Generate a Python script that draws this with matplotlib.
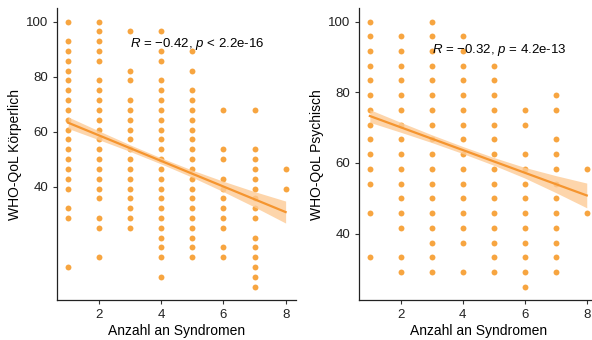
import numpy as np
import matplotlib
matplotlib.use("Agg")
import matplotlib.pyplot as plt

plt.rcParams["font.family"] = ["Liberation Sans", "DejaVu Sans"]
plt.rcParams["mathtext.fontset"] = "custom"
plt.rcParams["mathtext.rm"] = "Liberation Sans"
plt.rcParams["mathtext.it"] = "Liberation Sans:italic"

# number of syndromes (x) and raw WHO-QoL sum scores seen at each x
n_syndromes = [1, 2, 3, 4, 5, 6, 7, 8]

phys_raw = [
    [35, 33, 32, 31, 30, 29, 28, 27, 26, 25, 24, 23, 22, 21, 20, 19, 18, 16, 15, 10],
    [35, 34, 33, 32, 31, 29, 28, 27, 26, 25, 24, 23, 22, 21, 20, 19, 18, 17, 15, 14, 11],
    [34, 30, 29, 27, 26, 25, 24, 23, 22, 21, 20, 19, 18, 17, 16, 15, 14],
    [34, 32, 31, 29, 28, 27, 26, 25, 24, 23, 22, 21, 20, 19, 18, 17, 16, 15, 14, 13, 12, 11, 9],
    [32, 30, 28, 27, 26, 25, 24, 23, 22, 21, 20, 19, 18, 17, 16, 15, 14, 13, 12, 11],
    [26, 22, 21, 19, 18, 17, 16, 15, 14, 12, 11],
    [26, 22, 21, 20, 19, 18, 17, 16, 15, 13, 12, 11, 10, 9, 8],
    [20, 18],
]

psych_raw = [
    [30, 29, 28, 27, 26, 25, 24, 23, 22, 21, 20, 19, 17, 14],
    [29, 28, 27, 26, 25, 24, 23, 22, 21, 20, 19, 18, 17, 16, 14, 13],
    [30, 29, 28, 27, 26, 25, 24, 23, 22, 21, 20, 19, 18, 17, 16, 15, 14, 13],
    [29, 28, 27, 26, 25, 24, 23, 22, 21, 20, 19, 18, 17, 16, 15, 13],
    [27, 26, 25, 24, 23, 22, 21, 20, 19, 18, 17, 16, 15, 14, 13],
    [24, 23, 21, 20, 19, 18, 17, 16, 15, 14, 13, 12],
    [25, 24, 22, 21, 20, 19, 18, 17, 16, 15, 14, 13],
    [20, 17],
]

# regression fit and 95% CI half widths at x = 1..8
phys_fit = (-4.64, 67.84)
phys_ci = [2.1, 1.6, 1.2, 1.1, 1.3, 1.9, 2.8, 4.0]
psych_fit = (-3.21, 76.5)
psych_ci = [1.8, 1.4, 1.1, 1.0, 1.1, 1.5, 2.4, 3.5]

phys_label = r"$\mathit{R}$ = −0.42, $\mathit{p}$ < 2.2e-16"
psych_label = r"$\mathit{R}$ = −0.32, $\mathit{p}$ = 4.2e-13"

DOT = "#F7A540"
LINE = "#F5952F"
BAND = "#FDCB96"


def to_score(raw, n_items):
    # WHO-QoL domain transform (items scored 1..5) to 0..100
    return [(r - n_items) / (4 * n_items) * 100 for r in raw]


def panel(ax, raw, n_items, fit, ci, label, ylabel, ylim):
    for x, col in zip(n_syndromes, raw):
        ys = to_score(col, n_items)
        ax.scatter([x] * len(ys), ys, s=18, color=DOT, linewidths=0, zorder=2)

    xs = np.array(n_syndromes, dtype=float)
    fy = np.polyval(fit, xs)
    ax.fill_between(xs, fy - np.array(ci), fy + np.array(ci), color=BAND,
                    alpha=0.8, linewidth=0, zorder=3)
    ax.plot(xs, fy, color=LINE, lw=1.6, zorder=4)

    ax.text(3, 92, label, fontsize=9.5, ha="left", va="center", zorder=5)

    ax.set_xlim(0.65, 8.35)
    ax.set_ylim(*ylim)
    ax.set_xticks([2, 4, 6, 8])
    ax.set_yticks([40, 60, 80, 100])
    for s in ["top", "right"]:
        ax.spines[s].set_visible(False)
    for s in ["left", "bottom"]:
        ax.spines[s].set_linewidth(0.9)
        ax.spines[s].set_color("#222222")
    ax.tick_params(length=3, width=0.8, colors="#333333", labelsize=9.5,
                   labelcolor="#222222")
    ax.set_xlabel("Anzahl an Syndromen", fontsize=10, labelpad=2)
    ax.set_ylabel(ylabel, fontsize=10, labelpad=3)


fig = plt.figure(figsize=(5.92, 3.40), dpi=100)
ax1 = fig.add_axes([57.3 / 592, 40 / 340, 239.2 / 592, 291.7 / 340])
ax2 = fig.add_axes([359 / 592, 40 / 340, 238.6 / 592, 291.7 / 340])

panel(ax1, phys_raw, 7, phys_fit, phys_ci, phys_label,
      "WHO-QoL Körperlich", (-1.25, 104.8))
panel(ax2, psych_raw, 6, psych_fit, psych_ci, psych_label,
      "WHO-QoL Psychisch", (21.25, 103.75))

fig.savefig("out.png", dpi=100)
